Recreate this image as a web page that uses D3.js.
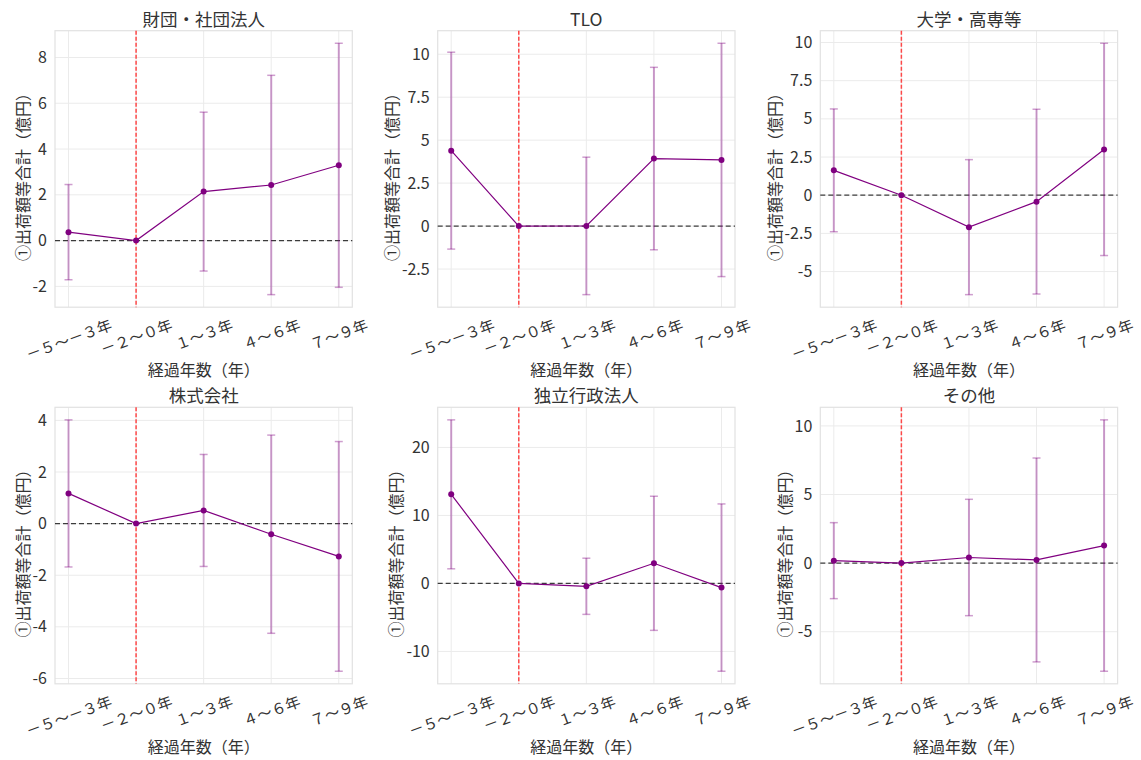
<!DOCTYPE html>
<html>
<head>
    <meta charset="utf-8" />
    <title>出荷額等合計 経過年数別</title>
    <style>
        body { margin: 0; background: #fff; }
        svg { font-family: "Noto Sans CJK JP", "Noto Sans", sans-serif; }
        .grid line { stroke: #ebebeb; stroke-width: 1; }
        .frame { fill: none; stroke: #e2e2e2; stroke-width: 1.2; }
    </style>
</head>
<body>
    <script src="https://cdn.jsdelivr.net/npm/d3@7"></script>

    <script>

        // categories along the x axis (shared by all panels)
        let categories = ['－５～－３年', '－２～０年', '１～３年', '４～６年', '７～９年']
        let refIndex = 1

        let titles = ['財団・社団法人', 'TLO', '大学・高専等', '株式会社', '独立行政法人', 'その他']

        // mean and half-width of the error bar, per panel
        let zaidanMean = [0.37, 0, 2.14, 2.43, 3.29]
        let zaidanErr = [2.08, 0, 3.47, 4.79, 5.33]
        let zaidanTicks = [-2, 0, 2, 4, 6, 8]

        let tloMean = [4.39, 0, 0.01, 3.93, 3.85]
        let tloErr = [5.73, 0, 4.0, 5.31, 6.79]
        let tloTicks = [-2.5, 0, 2.5, 5, 7.5, 10]

        let daigakuMean = [1.63, 0, -2.09, -0.42, 3.0]
        let daigakuErr = [4.02, 0, 4.42, 6.05, 6.95]
        let daigakuTicks = [-5, -2.5, 0, 2.5, 5, 7.5, 10]

        let kabushikiMean = [1.17, 0, 0.51, -0.41, -1.27]
        let kabushikiErr = [2.85, 0, 2.17, 3.84, 4.45]
        let kabushikiTicks = [-6, -4, -2, 0, 2, 4]

        let dokuritsuMean = [13.1, 0, -0.42, 2.96, -0.61]
        let dokuritsuErr = [10.95, 0, 4.13, 9.86, 12.3]
        let dokuritsuTicks = [-10, 0, 10, 20]

        let sonotaMean = [0.18, 0, 0.41, 0.23, 1.28]
        let sonotaErr = [2.77, 0, 4.24, 7.43, 9.16]
        let sonotaTicks = [-5, 0, 5, 10]

        let yLabel = '①出荷額等合計（億円）'
        let xLabel = '経過年数（年）'

        let panels = [
            { title: titles[0], mean: zaidanMean, err: zaidanErr, ticks: zaidanTicks },
            { title: titles[1], mean: tloMean, err: tloErr, ticks: tloTicks },
            { title: titles[2], mean: daigakuMean, err: daigakuErr, ticks: daigakuTicks },
            { title: titles[3], mean: kabushikiMean, err: kabushikiErr, ticks: kabushikiTicks },
            { title: titles[4], mean: dokuritsuMean, err: dokuritsuErr, ticks: dokuritsuTicks },
            { title: titles[5], mean: sonotaMean, err: sonotaErr, ticks: sonotaTicks }
        ]

        let width = 1141,
            height = 760,
            colLeft = [55, 437.7, 820.3],
            rowTop = [30.7, 407.3],
            plotW = 297.3,
            plotH = 276.5,
            purple = '#800080',
            rot = 20

        let svg = d3.select('body')
                    .append('svg')
                    .attr('width', width)
                    .attr('height', height)

        panels.forEach(function (p, i) {
            let g = svg.append('g')
                    .attr('transform', `translate(${colLeft[i % 3]}, ${rowTop[Math.floor(i / 3)]})`)
            drawPanel(g, p)
        })

        function drawPanel(g, p) {
            let lows = p.mean.map(function (m, j) { return m - p.err[j] }),
                highs = p.mean.map(function (m, j) { return m + p.err[j] }),
                lo = d3.min(lows),
                hi = d3.max(highs),
                pad = (hi - lo) * 0.05

            let x = d3.scaleLinear()
                        .domain([-0.2, categories.length - 0.8])
                        .range([0, plotW])
            let y = d3.scaleLinear()
                        .domain([lo - pad, hi + pad])
                        .range([plotH, 0])

            // grid
            let grid = g.append('g').classed('grid', true)
            grid.selectAll('line.gy')
                    .data(p.ticks)
                    .enter()
                    .append('line')
                    .attr('x1', 0).attr('x2', plotW)
                    .attr('y1', function (d) { return y(d) })
                    .attr('y2', function (d) { return y(d) })
            grid.selectAll('line.gx')
                    .data(categories)
                    .enter()
                    .append('line')
                    .attr('x1', function (d, j) { return x(j) })
                    .attr('x2', function (d, j) { return x(j) })
                    .attr('y1', 0).attr('y2', plotH)

            g.append('rect')
                    .classed('frame', true)
                    .attr('width', plotW)
                    .attr('height', plotH)

            // y tick labels
            let yAxis = d3.axisLeft(y)
                        .tickValues(p.ticks)
                        .tickSize(0)
                        .tickPadding(8)
                        .tickFormat(function (d) { return String(d) })
            let yG = g.append('g').call(yAxis)
            yG.select('.domain').remove()
            yG.selectAll('text')
                    .attr('fill', '#333')
                    .style('font-size', '16px')
                    .style('font-family', '"Noto Sans CJK JP", sans-serif')

            let maxW = 0
            yG.selectAll('text').each(function () {
                maxW = Math.max(maxW, this.getComputedTextLength())
            })

            // x tick labels, rotated
            let xFont = 15,
                s = Math.sin(rot * Math.PI / 180),
                c = Math.cos(rot * Math.PI / 180)
            g.selectAll('text.xtick')
                    .data(categories)
                    .enter()
                    .append('text')
                    .classed('xtick', true)
                    .text(function (d) { return d })
                    .attr('text-anchor', 'middle')
                    .attr('dominant-baseline', 'central')
                    .attr('fill', '#333')
                    .style('font-size', xFont + 'px')
                    .each(function (d, j) {
                        let w = this.getComputedTextLength()
                        let bh = w * s + xFont * c
                        d3.select(this).attr('transform',
                            `translate(${x(j)}, ${plotH + 9 + bh / 2}) rotate(${-rot})`)
                    })

            // reference lines
            g.append('line')
                    .attr('x1', x(refIndex)).attr('x2', x(refIndex))
                    .attr('y1', 0).attr('y2', plotH)
                    .attr('stroke', '#ff2a2a')
                    .attr('stroke-opacity', 0.85)
                    .attr('stroke-width', 1.5)
                    .attr('stroke-dasharray', '4,2')

            g.append('line')
                    .attr('x1', 0).attr('x2', plotW)
                    .attr('y1', y(0)).attr('y2', y(0))
                    .attr('stroke', '#000')
                    .attr('stroke-opacity', 0.75)
                    .attr('stroke-width', 1.3)
                    .attr('stroke-dasharray', '5,3')

            // error bars
            let bars = p.mean.map(function (m, j) { return { j: j, lo: lows[j], hi: highs[j], e: p.err[j] } })
                        .filter(function (d) { return d.e > 0 })
            let eb = g.append('g')
                    .attr('stroke', purple)
                    .attr('stroke-opacity', 0.38)
            eb.selectAll('line.bar')
                    .data(bars)
                    .enter()
                    .append('line')
                    .attr('x1', function (d) { return x(d.j) })
                    .attr('x2', function (d) { return x(d.j) })
                    .attr('y1', function (d) { return y(d.lo) })
                    .attr('y2', function (d) { return y(d.hi) })
                    .attr('stroke-width', 2)
            ;['lo', 'hi'].forEach(function (k) {
                eb.selectAll('line.cap' + k)
                        .data(bars)
                        .enter()
                        .append('line')
                        .attr('x1', function (d) { return x(d.j) - 4 })
                        .attr('x2', function (d) { return x(d.j) + 4 })
                        .attr('y1', function (d) { return y(d[k]) })
                        .attr('y2', function (d) { return y(d[k]) })
                        .attr('stroke-width', 1.5)
            })

            // mean line and markers
            let line = d3.line()
                        .x(function (d, j) { return x(j) })
                        .y(function (d) { return y(d) })
            g.append('path')
                    .datum(p.mean)
                    .attr('d', line)
                    .attr('fill', 'none')
                    .attr('stroke', purple)
                    .attr('stroke-width', 1.2)
            g.selectAll('circle.pt')
                    .data(p.mean)
                    .enter()
                    .append('circle')
                    .attr('cx', function (d, j) { return x(j) })
                    .attr('cy', function (d) { return y(d) })
                    .attr('r', 3)
                    .attr('fill', purple)

            // title and axis labels
            g.append('text')
                    .text(p.title)
                    .attr('x', plotW / 2)
                    .attr('y', -5)
                    .attr('text-anchor', 'middle')
                    .attr('fill', '#333')
                    .style('font-size', '17.5px')

            g.append('text')
                    .text(xLabel)
                    .attr('x', plotW / 2)
                    .attr('y', plotH + 62)
                    .attr('text-anchor', 'middle')
                    .attr('dominant-baseline', 'central')
                    .attr('fill', '#333')
                    .style('font-size', '16px')

            let ylx = -8 - maxW - 11
            g.append('text')
                    .text(yLabel)
                    .attr('text-anchor', 'middle')
                    .attr('dominant-baseline', 'central')
                    .attr('transform', `translate(${ylx}, ${plotH / 2 + 4}) rotate(-90)`)
                    .attr('fill', '#333')
                    .style('font-size', '16px')
        }

    </script>
</body>
</html>
